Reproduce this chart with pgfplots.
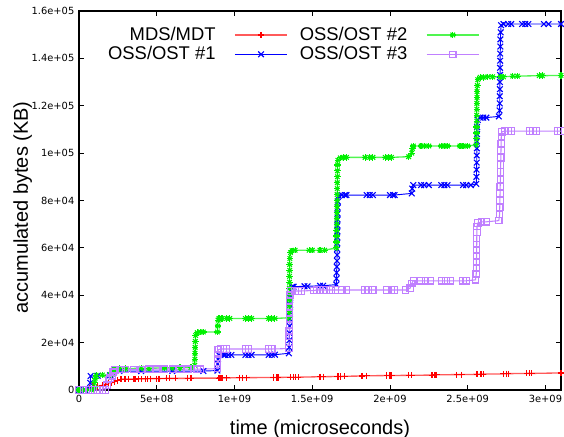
\documentclass[border=0pt]{standalone}
\usepackage{fontspec}
\setmainfont{Liberation Sans}
\newfontfamily\tickfont{DejaVu Sans}
\usepackage{pgfplots}
\usepackage{pgfplotstable}
\pgfplotsset{compat=1.18}

\definecolor{gpred}{RGB}{255,0,0}
\definecolor{gpredline}{RGB}{255,90,90}
\definecolor{gpblue}{RGB}{0,0,255}
\definecolor{gpgreen}{RGB}{0,240,0}
\definecolor{gpgreenline}{RGB}{80,245,80}
\definecolor{gppurple}{RGB}{192,128,255}

\pgfdeclareplotmark{plusx}{\pgfuseplotmark{+}\pgfuseplotmark{x}}

% time in units of 1e9 us, bytes in units of 1e4 KB
\pgfplotstableread{
t b
0 0
0.05 0.03
0.07 0.1
0.09 0.15
0.12 0.15
0.15 0.2
0.17 0.25
0.19 0.3
0.21 0.3
0.23 0.35
0.25 0.4
0.27 0.46
0.29 0.46
0.30 0.46
0.32 0.46
0.35 0.46
0.36 0.46
0.38 0.47
0.40 0.47
0.43 0.47
0.44 0.47
0.46 0.48
0.50 0.48
0.51 0.48
0.52 0.48
0.56 0.49
0.58 0.49
0.62 0.49
0.70 0.49
0.72 0.50
0.90 0.50
0.91 0.51
0.92 0.51
0.95 0.51
1.03 0.52
1.05 0.52
1.08 0.52
1.25 0.53
1.27 0.53
1.28 0.53
1.36 0.54
1.38 0.54
1.39 0.54
1.41 0.54
1.55 0.56
1.57 0.56
1.66 0.57
1.67 0.57
1.68 0.57
1.71 0.58
1.82 0.59
1.85 0.60
1.98 0.61
2.00 0.61
2.01 0.61
2.12 0.62
2.14 0.62
2.27 0.63
2.29 0.64
2.30 0.64
2.43 0.65
2.46 0.65
2.56 0.66
2.58 0.67
2.59 0.67
2.60 0.67
2.73 0.68
2.75 0.69
2.76 0.69
2.88 0.70
2.90 0.70
2.91 0.70
3.10 0.72
}\mdsdata

\pgfplotstableread{
t b
0 0
0.04 0
0.07 0.05
0.072 0.3
0.075 0.59
0.12 0.6
0.20 0.62
0.215 0.7
0.22 0.78
0.26 0.8
0.40 0.8
0.60 0.8
0.80 0.8
0.89 0.82
0.892 1.1
0.894 1.3
0.90 1.48
0.93 1.48
0.94 1.48
0.96 1.48
0.98 1.48
1.07 1.48
1.09 1.48
1.11 1.48
1.22 1.48
1.24 1.49
1.26 1.49
1.35 1.55
1.352 1.8
1.353 2.1
1.354 2.4
1.355 2.7
1.356 3.0
1.357 3.3
1.358 3.6
1.359 3.9
1.36 4.2
1.37 4.35
1.38 4.36
1.45 4.38
1.47 4.38
1.55 4.40
1.57 4.40
1.655 4.45
1.656 4.7
1.657 4.95
1.658 5.2
1.659 5.45
1.66 5.7
1.66 5.95
1.661 6.2
1.661 6.45
1.662 6.7
1.662 6.95
1.663 7.2
1.663 7.45
1.664 7.7
1.665 7.95
1.67 8.2
1.69 8.23
1.71 8.23
1.72 8.23
1.85 8.23
1.87 8.23
1.89 8.23
2.00 8.23
2.02 8.23
2.03 8.23
2.14 8.3
2.143 8.5
2.15 8.65
2.20 8.65
2.22 8.65
2.25 8.65
2.33 8.65
2.35 8.65
2.37 8.65
2.47 8.65
2.49 8.65
2.52 8.65
2.555 8.7
2.556 9.0
2.557 9.3
2.558 9.6
2.558 9.9
2.559 10.2
2.559 10.5
2.56 10.8
2.56 11.1
2.565 11.4
2.58 11.5
2.60 11.5
2.62 11.5
2.70 11.55
2.705 11.8
2.706 12.1
2.706 12.4
2.707 12.7
2.707 13.0
2.708 13.3
2.708 13.6
2.709 13.9
2.709 14.2
2.71 14.5
2.71 14.8
2.712 15.1
2.715 15.4
2.73 15.45
2.76 15.45
2.78 15.45
2.85 15.45
2.87 15.45
2.89 15.45
2.99 15.45
3.02 15.45
3.10 15.45
}\ossa

\pgfplotstableread{
t b
0 0
0.04 0
0.08 0
0.10 0.1
0.10 0.3
0.105 0.5
0.11 0.62
0.15 0.63
0.20 0.65
0.215 0.7
0.22 0.8
0.225 0.88
0.26 0.9
0.30 0.9
0.40 0.92
0.45 0.92
0.55 0.93
0.60 0.94
0.65 0.95
0.72 0.95
0.745 1.05
0.745 1.3
0.746 1.55
0.747 1.8
0.748 2.05
0.75 2.3
0.76 2.42
0.78 2.45
0.80 2.45
0.89 2.45
0.893 2.7
0.895 2.95
0.90 3.02
0.92 3.02
0.95 3.02
0.97 3.02
1.07 3.02
1.09 3.02
1.11 3.02
1.22 3.02
1.24 3.02
1.26 3.02
1.35 3.05
1.351 3.3
1.352 3.55
1.352 3.8
1.353 4.05
1.353 4.3
1.354 4.55
1.354 4.8
1.355 5.05
1.355 5.3
1.356 5.55
1.36 5.8
1.37 5.88
1.39 5.9
1.48 5.9
1.50 5.9
1.55 5.9
1.58 5.9
1.655 6.0
1.656 6.25
1.657 6.5
1.657 6.75
1.658 7.0
1.658 7.25
1.659 7.5
1.659 7.75
1.66 8.0
1.66 8.25
1.661 8.5
1.661 8.75
1.662 9.0
1.662 9.25
1.663 9.5
1.665 9.7
1.68 9.8
1.70 9.82
1.72 9.82
1.84 9.82
1.87 9.82
1.89 9.82
1.97 9.82
1.99 9.82
2.01 9.82
2.12 9.85
2.14 10.0
2.145 10.2
2.15 10.3
2.20 10.3
2.22 10.3
2.25 10.3
2.33 10.3
2.35 10.3
2.37 10.3
2.45 10.3
2.47 10.3
2.50 10.3
2.555 10.35
2.556 10.6
2.557 10.85
2.557 11.1
2.558 11.35
2.558 11.6
2.559 11.85
2.559 12.1
2.56 12.35
2.56 12.6
2.562 12.85
2.565 13.1
2.58 13.2
2.60 13.2
2.63 13.22
2.66 13.22
2.71 13.22
2.73 13.22
2.79 13.25
2.82 13.25
2.96 13.27
2.98 13.27
3.10 13.28
}\ossb

\pgfplotstableread{
t b
0 0
0.03 0
0.06 0
0.09 0
0.12 0
0.15 0
0.17 0
0.18 0.2
0.19 0.45
0.20 0.5
0.215 0.6
0.22 0.75
0.23 0.85
0.27 0.87
0.30 0.87
0.35 0.87
0.40 0.87
0.45 0.88
0.50 0.88
0.55 0.88
0.60 0.88
0.65 0.88
0.70 0.88
0.76 0.88
0.78 0.88
0.89 0.9
0.891 1.1
0.892 1.3
0.893 1.5
0.895 1.7
0.91 1.73
0.93 1.73
0.95 1.73
1.07 1.73
1.09 1.73
1.22 1.73
1.24 1.73
1.35 1.75
1.351 2.0
1.352 2.25
1.352 2.5
1.353 2.75
1.353 3.0
1.354 3.25
1.355 3.5
1.355 3.75
1.356 4.0
1.36 4.18
1.39 4.18
1.41 4.18
1.43 4.18
1.51 4.2
1.53 4.22
1.57 4.22
1.59 4.22
1.62 4.22
1.65 4.22
1.69 4.22
1.72 4.22
1.84 4.22
1.86 4.22
1.89 4.22
1.98 4.22
2.01 4.22
2.03 4.22
2.10 4.22
2.13 4.3
2.14 4.5
2.15 4.61
2.20 4.61
2.23 4.61
2.26 4.61
2.33 4.61
2.36 4.61
2.39 4.61
2.47 4.61
2.49 4.61
2.55 4.65
2.555 4.9
2.556 5.15
2.556 5.4
2.557 5.65
2.557 5.9
2.558 6.15
2.558 6.4
2.559 6.65
2.56 6.9
2.565 7.05
2.59 7.1
2.62 7.1
2.70 7.15
2.705 7.4
2.706 7.7
2.707 8.0
2.708 8.3
2.709 8.6
2.71 8.9
2.711 9.2
2.712 9.5
2.713 9.8
2.714 10.1
2.715 10.4
2.716 10.7
2.72 10.9
2.74 10.93
2.76 10.93
2.78 10.93
2.90 10.93
2.92 10.93
2.94 10.93
3.08 10.93
3.10 10.93
}\ossc

\begin{document}
\begin{tikzpicture}
\begin{axis}[
  width=361.5pt, height=284.25pt, scale only axis,
  xmin=0, xmax=3.1, ymin=0, ymax=16,
  clip=false,
  axis line style={line width=0.8pt},
  major tick length=4pt,
  tick style={line width=0.6pt, black},
  xtick={0,0.5,1,1.5,2,2.5,3},
  xticklabels={0,5e+08,1e+09,1.5e+09,2e+09,2.5e+09,3e+09},
  ytick={0,2,4,6,8,10,12,14,16},
  yticklabels={0,2e+04,4e+04,6e+04,8e+04,1e+05,1.2e+05,1.4e+05,1.6e+05},
  ticklabel style={font=\tickfont\fontsize{7.4}{8}\selectfont},
  xlabel={time (microseconds)},
  ylabel={accumulated bytes (KB)},
  label style={font=\fontsize{15}{17}\selectfont},
  xlabel style={at={(axis description cs:0.5,-0.1177)}, anchor=base},
  ylabel style={at={(axis description cs:-0.117,0.4815)}, anchor=center},
  legend columns=2,
  transpose legend,
  legend plot pos=right,
  legend cell align=right,
  legend style={at={(0.84,0.97)}, anchor=north east, draw=none, fill=none,
    font=\fontsize{13.8}{17}\selectfont,
    nodes={inner ysep=1.5pt},
    /tikz/every even column/.append style={column sep=7pt},
    /tikz/every odd column/.append style={column sep=12pt}},
  legend image code/.code={\draw[mark repeat=2,mark phase=2,#1] plot coordinates {(0cm,0cm) (0.69cm,0cm) (1.38cm,0cm)};},
]
\addplot[draw=gpredline, line width=1pt, mark=+, mark size=2.3pt,
  mark options={solid, draw=gpred, line width=0.85pt}] table[x=t, y=b] {\mdsdata};
\addlegendentry{MDS/MDT}
\addplot[draw=gpblue, line width=0.7pt, mark=x, mark size=3pt,
  mark options={solid, draw=gpblue, line width=0.85pt}] table[x=t, y=b] {\ossa};
\addlegendentry{OSS/OST \#1}
\addplot[draw=gpgreenline, line width=1pt, mark=plusx, mark size=2.4pt,
  mark options={solid, draw=gpgreen, line width=0.85pt}] table[x=t, y=b] {\ossb};
\addlegendentry{OSS/OST \#2}
\addplot[draw=gppurple, line width=0.8pt, mark=square, mark size=2.4pt,
  mark options={solid, draw=gppurple, line width=0.85pt}] table[x=t, y=b] {\ossc};
\addlegendentry{OSS/OST \#3}
\end{axis}
\pgfresetboundingbox
\path (current axis.south west) ++(-59.25pt,-35.25pt) coordinate (bl);
\path (current axis.north east) ++(2.25pt,8.25pt) coordinate (tr);
\useasboundingbox (bl) rectangle (tr);
\end{tikzpicture}
\end{document}
